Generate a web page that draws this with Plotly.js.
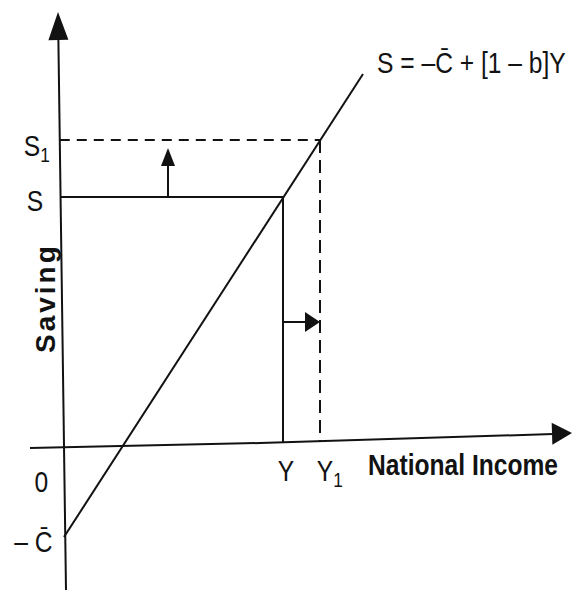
<!DOCTYPE html>
<html>
<head>
<meta charset="utf-8">
<script src="https://cdn.plot.ly/plotly-3.0.1.min.js"></script>
<style>
  html, body { margin: 0; padding: 0; background: #ffffff; }
  #chart { width: 572px; height: 590px; }
</style>
</head>
<body>
<div id="chart"></div>
<script>
// ---- data (income on x, saving on y) ----
const cBar = 90;                         // autonomous dissaving: S = -C̄ at Y = 0
const savingLineIncome = [0, 299];       // saving function S = -C̄ + [1-b]Y
const savingLineValues = [-90, 373];
const incomeLevels = [219, 256];         // Y, Y1
const savingLevels = [250, 307];         // S, S1
const incomeLabels = ['Y', 'Y<sub>1</sub>'];
const savingLabels = ['S', 'S<sub>1</sub>'];
const originLabel = '0';
const cBarLabel = '\u2013 C\u0304';
const equationLabel = 'S = \u2013C\u0304 + [1 \u2013 b]Y';
const xTitle = 'National Income';
const yTitle = 'Saving';

// ---- layout geometry ----
const X_MIN = -64, X_MAX = 508, Y_MIN = -143, Y_MAX = 447;
const baseFont = '"Liberation Sans", Arial, Helvetica, sans-serif';
const black = '#121212';

// the scanned axes are very slightly skewed; follow them
const xAxisPts = { x: [-34, 196, 489], y: [-1, 4, 13] };   // shaft of the income axis
const xAxisTip = [508, 14];
const yAxisBottom = [2, Y_MIN];
const yAxisTip = [-6, 435];

function xAxisHeight(x) {
  const px = xAxisPts.x, py = xAxisPts.y;
  let i = 0;
  while (i < px.length - 2 && x > px[i + 1]) i++;
  const t = (x - px[i]) / (px[i + 1] - px[i]);
  return py[i] + t * (py[i + 1] - py[i]);
}
function yAxisPos(y) {
  const t = (y - yAxisBottom[1]) / (yAxisTip[1] - yAxisBottom[1]);
  return yAxisBottom[0] + t * (yAxisTip[0] - yAxisBottom[0]);
}
function arrowPath(tip, dir, len, hw) {
  const n = Math.hypot(dir[0], dir[1]);
  const ux = dir[0] / n, uy = dir[1] / n;
  const bx = tip[0] - ux * len, by = tip[1] - uy * len;
  const px = -uy * hw, py = ux * hw;
  return `M ${tip[0]} ${tip[1]} L ${bx + px} ${by + py} L ${bx - px} ${by - py} Z`;
}

const [Y0, Y1] = incomeLevels;
const [S0, S1] = savingLevels;

const traces = [
  // saving function
  { x: savingLineIncome, y: savingLineValues, mode: 'lines',
    line: { color: black, width: 2 }, hoverinfo: 'skip' },
  // initial position: S level and Y level (solid)
  { x: [yAxisPos(S0), Y0, Y0], y: [S0, S0, xAxisHeight(Y0)], mode: 'lines',
    line: { color: black, width: 2 }, hoverinfo: 'skip' },
  // new position: S1 level (dashed)
  { x: [yAxisPos(S1), Y1], y: [S1, S1], mode: 'lines',
    line: { color: black, width: 2, dash: '10px,7px' }, hoverinfo: 'skip' },
  // new position: Y1 level (dashed)
  { x: [Y1, Y1], y: [S1, xAxisHeight(Y1)], mode: 'lines',
    line: { color: black, width: 2, dash: '13px,7px' }, hoverinfo: 'skip' },
  // income axis shaft
  { x: xAxisPts.x, y: xAxisPts.y, mode: 'lines',
    line: { color: black, width: 2 }, hoverinfo: 'skip' }
];

const upArrowX = 104;
const rightArrowY = 125;
const yDir = [yAxisTip[0] - yAxisBottom[0], yAxisTip[1] - yAxisBottom[1]];
const xDir = [xAxisTip[0] - xAxisPts.x[1], xAxisTip[1] - xAxisPts.y[1]];

const shapes = [
  // saving axis
  { type: 'line', x0: yAxisBottom[0], y0: yAxisBottom[1], x1: yAxisPos(yAxisTip[1] - 24), y1: yAxisTip[1] - 24,
    line: { color: black, width: 2 } },
  { type: 'path', path: arrowPath(yAxisTip, yDir, 28, 10), fillcolor: black, line: { width: 0 } },
  // income axis arrow head
  { type: 'path', path: arrowPath(xAxisTip, xDir, 20, 11), fillcolor: black, line: { width: 0 } },
  // upward shift of saving
  { type: 'line', x0: upArrowX, x1: upArrowX, y0: S0, y1: S1 - 22, line: { color: black, width: 2 } },
  { type: 'path', path: arrowPath([upArrowX, S1 - 8], [0, 1], 18, 7), fillcolor: black, line: { width: 0 } },
  // rightward shift of income
  { type: 'line', x0: Y0, x1: Y1 - 12, y0: rightArrowY, y1: rightArrowY, line: { color: black, width: 2 } },
  { type: 'path', path: arrowPath([Y1, rightArrowY], [1, 0], 15, 10), fillcolor: black, line: { width: 0 } }
];

const labelFont = { family: baseFont, size: 30, color: black };
const boldFont = { family: baseFont, size: 30, color: black, weight: 'bold' };

const annotations = [
  { x: 0, y: S0, text: savingLabels[0], xshift: -29, yshift: -3 },
  { x: 0, y: S1, text: savingLabels[1], xshift: -27, yshift: -7 },
  { x: 0, y: 0, text: originLabel, xshift: -23, yshift: -34 },
  { x: 0, y: -cBar, text: cBarLabel, xshift: -31, yshift: -4 },
  { x: Y0, y: 0, text: incomeLabels[0], xshift: 3, yshift: -23 },
  { x: Y1, y: 0, text: incomeLabels[1], xshift: 10, yshift: -25 },
  { x: 302, y: 0, text: xTitle, font: boldFont, xanchor: 'left', yshift: -17 },
  { x: 311, y: 385, text: equationLabel, xanchor: 'left' },
  { x: 0, y: 149, text: yTitle, font: { family: baseFont, size: 28, color: black, weight: 'bold' },
    textangle: -90, xshift: -19 }
].map(a => Object.assign({ xref: 'x', yref: 'y', showarrow: false, font: labelFont }, a));

const layout = {
  width: 572, height: 590,
  margin: { l: 0, r: 0, t: 0, b: 0 },
  paper_bgcolor: '#ffffff', plot_bgcolor: '#ffffff',
  showlegend: false,
  xaxis: { range: [X_MIN, X_MAX], visible: false, fixedrange: true },
  yaxis: { range: [Y_MIN, Y_MAX], visible: false, fixedrange: true },
  shapes: shapes,
  annotations: annotations
};

// The book sets its labels in a condensed face; narrow the installed sans to match.
const CONDENSE = 0.82;
Plotly.newPlot('chart', traces, layout, { staticPlot: true, displayModeBar: false }).then(gd => {
  gd.querySelectorAll('g.annotation').forEach(g => {
    const idx = +g.getAttribute('data-index');
    const ann = annotations[idx];
    const t = g.querySelector('text.annotation-text');
    if (!t || !ann) return;
    if (ann.text === yTitle) {
      t.style.letterSpacing = '3px';
      return;
    }
    const bb = t.getBBox();
    const cx = ann.xanchor === 'left' ? bb.x : bb.x + bb.width / 2;
    const prev = t.getAttribute('transform') || '';
    t.setAttribute('transform',
      `${prev} translate(${cx},0) scale(${CONDENSE},1) translate(${-cx},0)`.trim());
  });
});
</script>
</body>
</html>
